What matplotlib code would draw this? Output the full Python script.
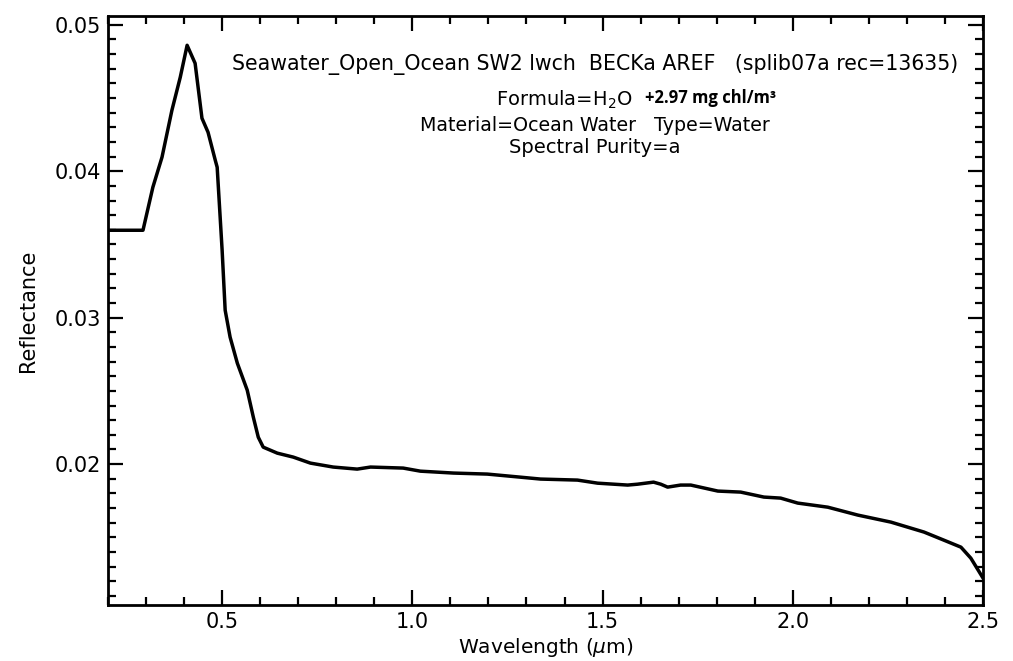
import matplotlib
matplotlib.use('Agg')

import matplotlib.pyplot as plt
from matplotlib.ticker import MultipleLocator, FormatStrFormatter

# spectrum (wavelength in um, reflectance)
wavelength = [0.200, 0.292, 0.318, 0.342, 0.368, 0.390, 0.408, 0.429, 0.447,
              0.463, 0.482, 0.487, 0.500, 0.508, 0.521, 0.540, 0.566, 0.582,
              0.595, 0.608, 0.645, 0.687, 0.732, 0.792, 0.855, 0.890, 0.976,
              1.021, 1.108, 1.197, 1.284, 1.337, 1.434, 1.487, 1.566, 1.592,
              1.634, 1.653, 1.671, 1.705, 1.732, 1.803, 1.863, 1.924, 1.968,
              2.013, 2.092, 2.171, 2.258, 2.345, 2.397, 2.442, 2.468, 2.500]
reflectance = [0.03597, 0.03597, 0.03891, 0.04096, 0.04416, 0.04642, 0.04860,
               0.04737, 0.04362, 0.04266, 0.04075, 0.04027, 0.03461, 0.03051,
               0.02867, 0.02689, 0.02505, 0.02321, 0.02184, 0.02116, 0.02075,
               0.02048, 0.02007, 0.01980, 0.01966, 0.01980, 0.01973, 0.01952,
               0.01939, 0.01932, 0.01911, 0.01898, 0.01891, 0.01870, 0.01857,
               0.01863, 0.01877, 0.01863, 0.01843, 0.01857, 0.01857, 0.01816,
               0.01809, 0.01775, 0.01768, 0.01734, 0.01706, 0.01652, 0.01604,
               0.01536, 0.01481, 0.01433, 0.01358, 0.01222]

plt.rcParams['font.family'] = ['DejaVu Sans']

fig = plt.figure(figsize=(10.13, 6.61), dpi=100)
ax = fig.add_axes([0.1066, 0.0847, 0.8638, 0.8911])

ax.plot(wavelength, reflectance, color='black', linewidth=2.5)

ax.set_xlim(0.2, 2.5)
ax.set_ylim(0.01038, 0.0506)

ax.xaxis.set_major_locator(MultipleLocator(0.5))
ax.xaxis.set_minor_locator(MultipleLocator(0.1))
ax.yaxis.set_major_locator(MultipleLocator(0.01))
ax.yaxis.set_minor_locator(MultipleLocator(0.001))
ax.xaxis.set_major_formatter(FormatStrFormatter('%.1f'))
ax.yaxis.set_major_formatter(FormatStrFormatter('%.2f'))

ax.tick_params(which='both', direction='in', top=True, right=True,
               labelsize=15, width=1.6, pad=5)
ax.tick_params(which='major', length=11)
ax.tick_params(which='minor', length=6)
for sp in ax.spines.values():
    sp.set_linewidth(2)

ax.set_xlabel('Wavelength ($\\mu$m)', fontsize=14.5, labelpad=3)
ax.set_ylabel('Reflectance', fontsize=15, labelpad=12)

# header text block
ax.text(0.5566, 0.9185,
        'Seawater_Open_Ocean SW2 lwch  BECKa AREF   (splib07a rec=13635)',
        transform=ax.transAxes, ha='center', va='center', fontsize=14.8)
ax.text(0.600, 0.8574, 'Formula=H$_2$O', transform=ax.transAxes,
        ha='right', va='center', fontsize=14)
ax.text(0.6137, 0.8600, '+2.97 mg chl/m³', transform=ax.transAxes,
        ha='left', va='center', fontsize=12, fontweight='bold',
        family=['Open Sans', 'DejaVu Sans'])
ax.text(0.5566, 0.8149, 'Material=Ocean Water   Type=Water',
        transform=ax.transAxes, ha='center', va='center', fontsize=13.7)
ax.text(0.5566, 0.7759, 'Spectral Purity=a',
        transform=ax.transAxes, ha='center', va='center', fontsize=14)

fig.savefig('out.png', dpi=100)
